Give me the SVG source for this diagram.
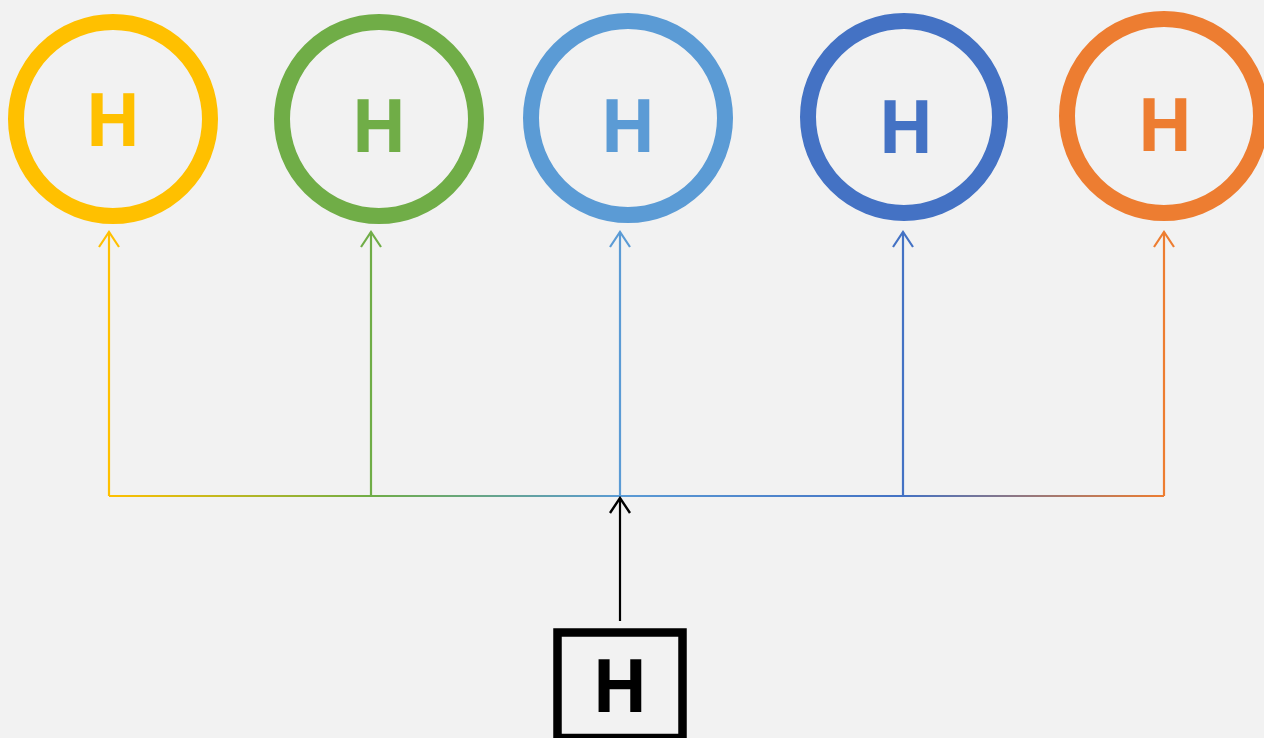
<svg xmlns="http://www.w3.org/2000/svg" width="1264" height="738" viewBox="0 0 1264 738">
  <style>
    .ring { fill: none; stroke-width: 16; }
    .lbl { font-family: "Open Sans", "Liberation Sans", sans-serif; font-weight: bold; font-size: 73px; text-anchor: middle; }
    .wire { fill: none; stroke-width: 2.2; }
  </style>
  <defs>
    <linearGradient id="bus" gradientUnits="userSpaceOnUse" x1="109" y1="0" x2="1164" y2="0">
      <stop offset="0" stop-color="#FFC000"/>
      <stop offset="0.248" stop-color="#70AD47"/>
      <stop offset="0.484" stop-color="#5B9BD5"/>
      <stop offset="0.753" stop-color="#4472C4"/>
      <stop offset="1" stop-color="#ED7D31"/>
    </linearGradient>
    <!-- open chevron heads, one per wire colour; the wires run straight up -->
    <marker id="aY" markerUnits="userSpaceOnUse" markerWidth="24" markerHeight="24" refX="12" refY="2" viewBox="0 0 24 24"><path d="M2 17 L12 2 L22 17" fill="none" stroke="#FFC000" stroke-width="2.2"/></marker>
    <marker id="aG" markerUnits="userSpaceOnUse" markerWidth="24" markerHeight="24" refX="12" refY="2" viewBox="0 0 24 24"><path d="M2 17 L12 2 L22 17" fill="none" stroke="#70AD47" stroke-width="2.2"/></marker>
    <marker id="aL" markerUnits="userSpaceOnUse" markerWidth="24" markerHeight="24" refX="12" refY="2" viewBox="0 0 24 24"><path d="M2 17 L12 2 L22 17" fill="none" stroke="#5B9BD5" stroke-width="2.2"/></marker>
    <marker id="aB" markerUnits="userSpaceOnUse" markerWidth="24" markerHeight="24" refX="12" refY="2" viewBox="0 0 24 24"><path d="M2 17 L12 2 L22 17" fill="none" stroke="#4472C4" stroke-width="2.2"/></marker>
    <marker id="aO" markerUnits="userSpaceOnUse" markerWidth="24" markerHeight="24" refX="12" refY="2" viewBox="0 0 24 24"><path d="M2 17 L12 2 L22 17" fill="none" stroke="#ED7D31" stroke-width="2.2"/></marker>
    <marker id="aK" markerUnits="userSpaceOnUse" markerWidth="24" markerHeight="24" refX="12" refY="2" viewBox="0 0 24 24"><path d="M2 17 L12 2 L22 17" fill="none" stroke="#000" stroke-width="2.4"/></marker>
  </defs>

  <rect width="1264" height="738" fill="#F2F2F2"/>

  <g id="connectors">
    <path class="wire" d="M109 496 H1164" stroke="url(#bus)"/>
    <path class="wire" d="M109 496 V232" stroke="#FFC000" marker-end="url(#aY)"/>
    <path class="wire" d="M371 496 V232" stroke="#70AD47" marker-end="url(#aG)"/>
    <path class="wire" d="M620 496 V232" stroke="#5B9BD5" marker-end="url(#aL)"/>
    <path class="wire" d="M903 496 V232" stroke="#4472C4" marker-end="url(#aB)"/>
    <path class="wire" d="M1164 496 V232" stroke="#ED7D31" marker-end="url(#aO)"/>
    <path class="wire" d="M620 621 V498" stroke="#000" stroke-width="2.4" marker-end="url(#aK)"/>
  </g>

  <g id="node-yellow">
    <circle class="ring" cx="113" cy="119" r="97" stroke="#FFC000"/>
    <text class="lbl" x="113" y="146" fill="#FFC000">H</text>
  </g>
  <g id="node-green">
    <circle class="ring" cx="379" cy="119" r="97" stroke="#70AD47"/>
    <text class="lbl" x="379" y="152" fill="#70AD47">H</text>
  </g>
  <g id="node-lightblue">
    <circle class="ring" cx="628" cy="118" r="97" stroke="#5B9BD5"/>
    <text class="lbl" x="628" y="152" fill="#5B9BD5">H</text>
  </g>
  <g id="node-blue">
    <circle class="ring" cx="904" cy="117" r="96" stroke="#4472C4"/>
    <text class="lbl" x="906" y="153" fill="#4472C4">H</text>
  </g>
  <g id="node-orange">
    <circle class="ring" cx="1164" cy="116" r="97" stroke="#ED7D31"/>
    <text class="lbl" x="1165" y="151" fill="#ED7D31">H</text>
  </g>

  <g id="node-source">
    <rect x="557.5" y="632.5" width="125" height="105.5" fill="none" stroke="#000" stroke-width="8.5"/>
    <text class="lbl" x="620" y="712" fill="#000">H</text>
  </g>
</svg>
